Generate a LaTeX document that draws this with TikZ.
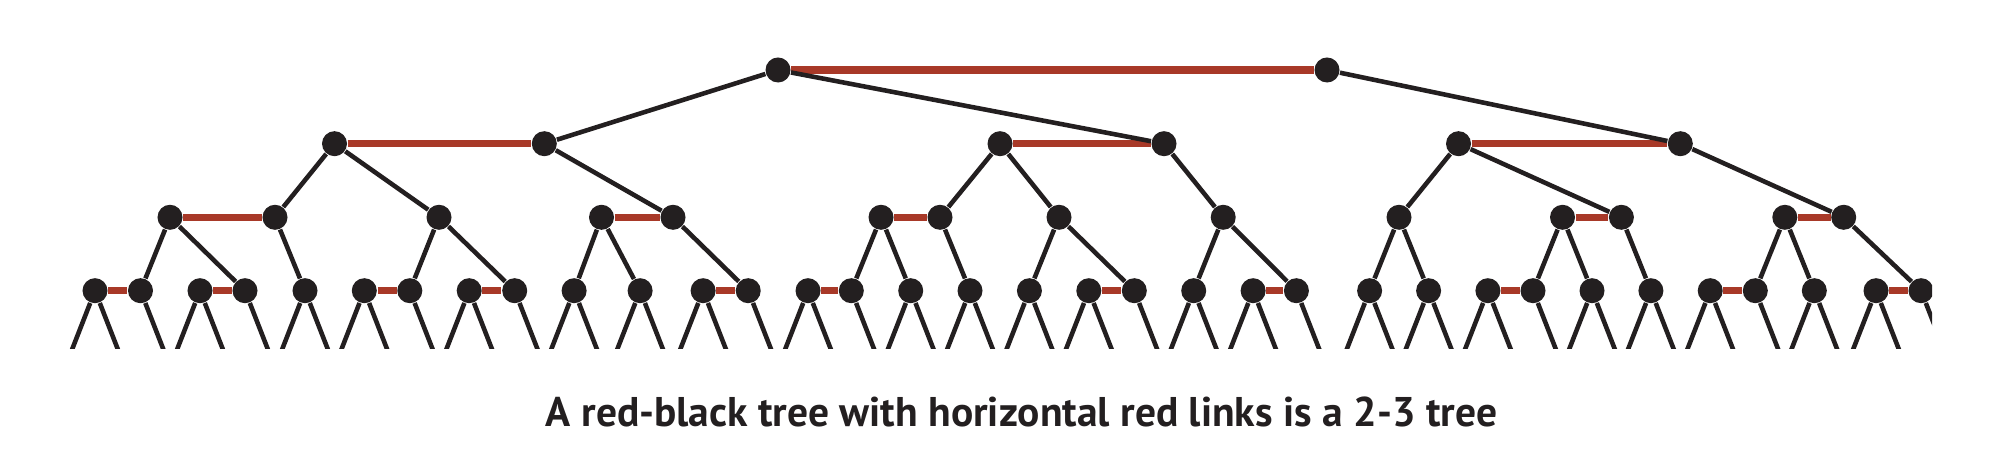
\documentclass[tikz,border=0pt]{standalone}
\usepackage{fontspec}
\setmainfont{PT Sans}
\definecolor{inkblack}{RGB}{35,31,32}
\definecolor{linkred}{RGB}{168,57,40}

\begin{document}
\begin{tikzpicture}[
    x=0.01cm, y=-0.01cm,
    key/.style={circle, fill=inkblack, minimum size=0.25cm, inner sep=0pt},
    blacklink/.style={draw=inkblack, line width=1.3pt},
    redlink/.style={draw=linkred, line width=2.05pt}
  ]
\useasboundingbox (0,0) rectangle (2004,458);

\begin{scope}
\clip (0,0) rectangle (1932,348.3);

%% keys of each level, left to right
\node[key] (t1) at (778,70) {};
\node[key] (t2) at (1327,70) {};
\foreach \x [count=\i] in {334.5,544.3,1000,1164,1458.5,1680.3}
  \node[key] (a\i) at (\x,143.7) {};
\foreach \x [count=\i] in {170,275,439,601.5,673,881,940,1059,1223.2,1399,1562.5,1621.4,1784.8,1843.7}
  \node[key] (b\i) at (\x,217.3) {};
\foreach \x [count=\i] in {95,140.5,200,245,305,364.3,409.8,469.2,514.7,574.1,640.1,703.1,748.2,808,851.3,
    910.7,970,1029.4,1088.8,1134.3,1193.7,1253.1,1296.4,1369.6,1428.6,1487.9,1533,1592,1650.9,1710.2,1755.3,1814.3,1876,1921}
  \node[key] (c\i) at (\x,290.7) {};

%% red links join the two keys of a 3-node
\draw[redlink] (t1) -- (t2) (a1) -- (a2) (a3) -- (a4) (a5) -- (a6);
\draw[redlink] (b1) -- (b2) (b4) -- (b5) (b6) -- (b7) (b11) -- (b12) (b13) -- (b14);
\draw[redlink] (c1) -- (c2) (c3) -- (c4) (c6) -- (c7) (c8) -- (c9) (c12) -- (c13) (c14) -- (c15)
  (c19) -- (c20) (c22) -- (c23) (c26) -- (c27) (c30) -- (c31) (c33) -- (c34);

%% black links
\draw[blacklink] (t1) -- (a2) (t1) -- (a4) (t2) -- (a6);
\draw[blacklink] (a1) -- (b2) (a1) -- (b3) (a2) -- (b5) (a3) -- (b7) (a3) -- (b8) (a4) -- (b9)
  (a5) -- (b10) (a5) -- (b12) (a6) -- (b14);
\draw[blacklink] (b1) -- (c2) (b1) -- (c4) (b2) -- (c5) (b3) -- (c7) (b3) -- (c9)
  (b4) -- (c10) (b4) -- (c11) (b5) -- (c13) (b6) -- (c15) (b6) -- (c16) (b7) -- (c17)
  (b8) -- (c18) (b8) -- (c20) (b9) -- (c21) (b9) -- (c23) (b10) -- (c24) (b10) -- (c25)
  (b11) -- (c27) (b11) -- (c28) (b12) -- (c29) (b13) -- (c31) (b13) -- (c32) (b14) -- (c34);

%% null links below the bottom keys
\foreach \n in {c1,c3,c5,c6,c8,c10,c11,c12,c14,c16,c17,c18,c19,c21,c22,c24,c25,c26,c28,c29,c30,c32,c33} {
  \path (\n.center) ++(-23.9,61.3) coordinate (\n-l) ++(47.8,0) coordinate (\n-r);
  \draw[blacklink] (\n) -- (\n-l) (\n) -- (\n-r);
}
\foreach \n in {c2,c4,c7,c9,c13,c15,c20,c23,c27,c31,c34} {
  \path (\n.center) ++(23.9,61.3) coordinate (\n-r);
  \draw[blacklink] (\n) -- (\n-r);
}
\end{scope}

\node[anchor=base, text=inkblack, font=\bfseries\fontsize{11.8pt}{14pt}\selectfont] (caption) at (1021.5,426.7)
  {A red-black tree with horizontal red links is a 2-3 tree};
\end{tikzpicture}
\end{document}
